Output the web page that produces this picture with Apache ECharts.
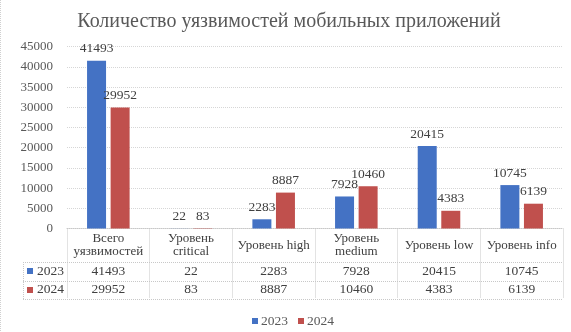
<!DOCTYPE html>
<html>
<head>
<meta charset="utf-8">
<script src="https://cdn.jsdelivr.net/npm/echarts@6/dist/echarts.min.js"></script>
<style>
html,body{margin:0;padding:0;background:#fff;}
#c{width:571px;height:332px;}
</style>
</head>
<body>
<div id="c"></div>
<script>
const titleText = 'Количество уязвимостей мобильных приложений';
const categories = ['Всего\nуязвимостей', 'Уровень\ncritical', 'Уровень high', 'Уровень\nmedium', 'Уровень low', 'Уровень info'];
const seriesNames = ['2023', '2024'];
const values2023 = [41493, 22, 2283, 7928, 20415, 10745];
const values2024 = [29952, 83, 8887, 10460, 4383, 6139];
const yTicks = [0, 5000, 10000, 15000, 20000, 25000, 30000, 35000, 40000, 45000];

const FONT = '"Liberation Serif", serif';
const BLUE = '#4472c4';
const RED = '#c0504d';
const LINE = '#c8c8c8';

const chart = echarts.init(document.getElementById('c'), null, {renderer: 'canvas'});

const labelStyle = {
  show: true, position: 'top', distance: 5,
  fontFamily: FONT, fontSize: 13.5, color: '#404040'
};

chart.setOption({
  animation: false,
  backgroundColor: '#fff',
  title: {
    text: titleText, left: 284, top: 7, textAlign: 'center',
    textStyle: {fontFamily: FONT, fontSize: 20, fontWeight: 'normal', color: '#595959'}
  },
  legend: {
    data: seriesNames, left: 247, top: 309, icon: 'rect',
    itemWidth: 6, itemHeight: 6, itemGap: 10,
    textStyle: {fontFamily: FONT, fontSize: 13.5, color: '#595959', padding: [0, 0, 0, -2]}
  },
  grid: {left: 67, right: 8, top: 46.7, bottom: 103.5, containLabel: false},
  xAxis: {
    type: 'category', data: categories, boundaryGap: true,
    axisLine: {show: true, lineStyle: {color: LINE, type: 'dotted', width: 1}},
    axisTick: {show: true, interval: 0, length: 70, lineStyle: {color: LINE, type: 'dotted', width: 1}},
    axisLabel: {
      interval: 0, margin: 17, verticalAlign: 'middle', lineHeight: 13,
      fontFamily: FONT, fontSize: 13, color: '#404040'
    }
  },
  yAxis: {
    type: 'value', min: yTicks[0], max: yTicks[yTicks.length - 1], interval: yTicks[1] - yTicks[0],
    axisLine: {show: false}, axisTick: {show: false},
    splitLine: {lineStyle: {color: '#d6d6d6', type: 'dotted', width: 1}},
    axisLabel: {margin: 14, fontFamily: FONT, fontSize: 13, color: '#595959', formatter: v => String(v)}
  },
  series: [
    {name: seriesNames[0], type: 'bar', data: values2023, barWidth: 19, barGap: '24%',
     itemStyle: {color: BLUE}, label: labelStyle},
    {name: seriesNames[1], type: 'bar', data: values2024, barWidth: 19, barGap: '24%',
     itemStyle: {color: RED}, label: labelStyle}
  ]
});

// data table beneath the axis, positioned from the chart's own scales
const centers = categories.map((_, i) => chart.convertToPixel({xAxisIndex: 0}, i));
const band = centers[1] - centers[0];
const xR = centers[centers.length - 1] + band / 2;
const y0 = chart.convertToPixel({yAxisIndex: 0}, 0);
const keyLeft = 23;
const r1 = y0 + 33, r2 = y0 + 52, r3 = y0 + 70.5;
const dotted = {stroke: LINE, lineWidth: 1, lineDash: [1, 1]};
const g = [];
[r1, r2, r3].forEach(y => g.push({type: 'line', shape: {x1: keyLeft, y1: Math.round(y) + 0.5, x2: xR, y2: Math.round(y) + 0.5}, style: dotted, silent: true}));
g.push({type: 'line', shape: {x1: keyLeft + 0.5, y1: Math.round(r1), x2: keyLeft + 0.5, y2: Math.round(r3)}, style: dotted, silent: true});
g.push({type: 'line', shape: {x1: 0.5, y1: 0, x2: 0.5, y2: 332}, style: {stroke: '#d0d0d0', lineWidth: 1, lineDash: [1, 1]}, silent: true});
const rows = [[values2023, BLUE, seriesNames[0], (r1 + r2) / 2], [values2024, RED, seriesNames[1], (r2 + r3) / 2]];
rows.forEach(([vals, col, name, yc]) => {
  g.push({type: 'rect', shape: {x: 27, y: Math.round(yc) - 3, width: 6, height: 6}, style: {fill: col}, silent: true});
  g.push({type: 'text', x: 37, y: yc, style: {text: name, fontFamily: FONT, fontSize: 13.5, fill: '#404040', textVerticalAlign: 'middle', textAlign: 'left'}, silent: true});
  vals.forEach((v, i) => {
    g.push({type: 'text', x: centers[i], y: yc, style: {text: String(v), fontFamily: FONT, fontSize: 13.5, fill: '#404040', textVerticalAlign: 'middle', textAlign: 'center'}, silent: true});
  });
});
chart.setOption({graphic: {elements: g}});
</script>
</body>
</html>
